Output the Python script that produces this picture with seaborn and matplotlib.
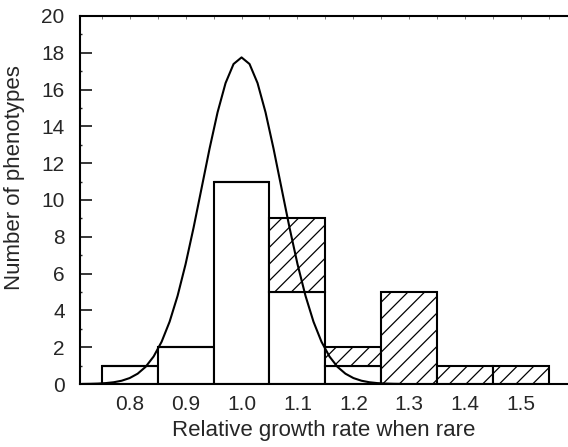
import numpy as np
import pandas as pd
import matplotlib
matplotlib.use("Agg")
import matplotlib.pyplot as plt
import matplotlib.colors as mcolors
from matplotlib.ticker import MultipleLocator
import seaborn as sns

# Histogram of phenotype growth rates (bin centres, width 0.1)
bin_centers = [0.8, 0.9, 1.0, 1.1, 1.2, 1.3, 1.4, 1.5]
open_counts = [1, 2, 11, 5, 1, 0, 0, 0]
hatched_counts = [0, 0, 0, 4, 1, 5, 1, 1]
x_tick_labels = ["0.8", "0.9", "1.0", "1.1", "1.2", "1.3", "1.4", "1.5"]
y_ticks = [0, 2, 4, 6, 8, 10, 12, 14, 16, 18, 20]

# Fitted normal curve over the open bars
fit_mean = 1.0
fit_sd = 0.0707
fit_peak = 17.75
fit_step = 0.0143
fit_half_points = 20

sns.set_style("ticks")
plt.rcParams["font.family"] = ["Liberation Sans", "DejaVu Sans"]
plt.rcParams["hatch.linewidth"] = 0.9

df = pd.DataFrame({
    "growth": bin_centers * 2,
    "count": open_counts + hatched_counts,
    "group": ["open"] * len(bin_centers) + ["hatched"] * len(bin_centers),
})

fig = plt.figure(figsize=(5.68, 4.47), dpi=100)
ax = fig.add_axes([80 / 568, 63 / 447, 488 / 568, 368 / 447])

open_color = "#d62728"
hatch_color = "#1f77b4"
sns.histplot(
    data=df, x="growth", weights="count", hue="group",
    hue_order=["hatched", "open"], multiple="stack",
    binwidth=0.1, binrange=(0.75, 1.55),
    palette={"open": open_color, "hatched": hatch_color},
    alpha=1, edgecolor="black", linewidth=1.5, legend=False, ax=ax,
)

# Open bars white, the second group white with diagonal hatching
hatch_rgb = np.array(mcolors.to_rgb(hatch_color))
for p in ax.patches:
    fc = np.array(p.get_facecolor()[:3])
    is_hatched = np.allclose(fc, hatch_rgb, atol=0.02)
    p.set_facecolor("white")
    p.set_edgecolor("black")
    if is_hatched:
        p.set_hatch("//")
    p.set_zorder(2)

k = np.arange(-fit_half_points, fit_half_points + 1)
fit_x = fit_mean + fit_step * k
fit_y = fit_peak * np.exp(-((fit_x - fit_mean) ** 2) / (2 * fit_sd ** 2))
sns.lineplot(x=fit_x, y=fit_y, color="black", linewidth=1.5, ax=ax,
             zorder=3, clip_on=False)

ax.set_xlim(0.711, 1.584)
ax.set_ylim(0, 20)
ax.set_xticks(bin_centers)
ax.set_xticklabels(x_tick_labels)
ax.xaxis.set_minor_locator(MultipleLocator(0.05))
ax.set_yticks(y_ticks)
ax.yaxis.set_minor_locator(MultipleLocator(1))

ax.tick_params(axis="x", which="major", direction="in", length=4.5, width=1.3,
               labelsize=15, pad=8, color="black")
ax.tick_params(axis="x", which="minor", direction="in", length=4.5, width=1.3)
ax.tick_params(axis="y", which="major", direction="in", length=8.5, width=1.3,
               labelsize=15, pad=11)
ax.tick_params(axis="y", which="minor", direction="in", length=1.5, width=1.0)

for side in ["left", "bottom", "top"]:
    ax.spines[side].set_linewidth(1.5)
    ax.spines[side].set_color("black")
ax.spines["right"].set_visible(False)

# faint ticks along the top frame
top = ax.secondary_xaxis("top")
top.set_xticks(np.arange(0.75, 1.6, 0.05))
top.tick_params(direction="in", length=2, width=0.6, color="#666666",
                labeltop=False)
top.spines["top"].set_visible(False)

ax.set_xlabel("Relative growth rate when rare", fontsize=16, labelpad=4)
ax.set_ylabel("Number of phenotypes", fontsize=16)
ax.yaxis.set_label_coords(-0.112, 0.56)

fig.savefig("out.png", dpi=100)
